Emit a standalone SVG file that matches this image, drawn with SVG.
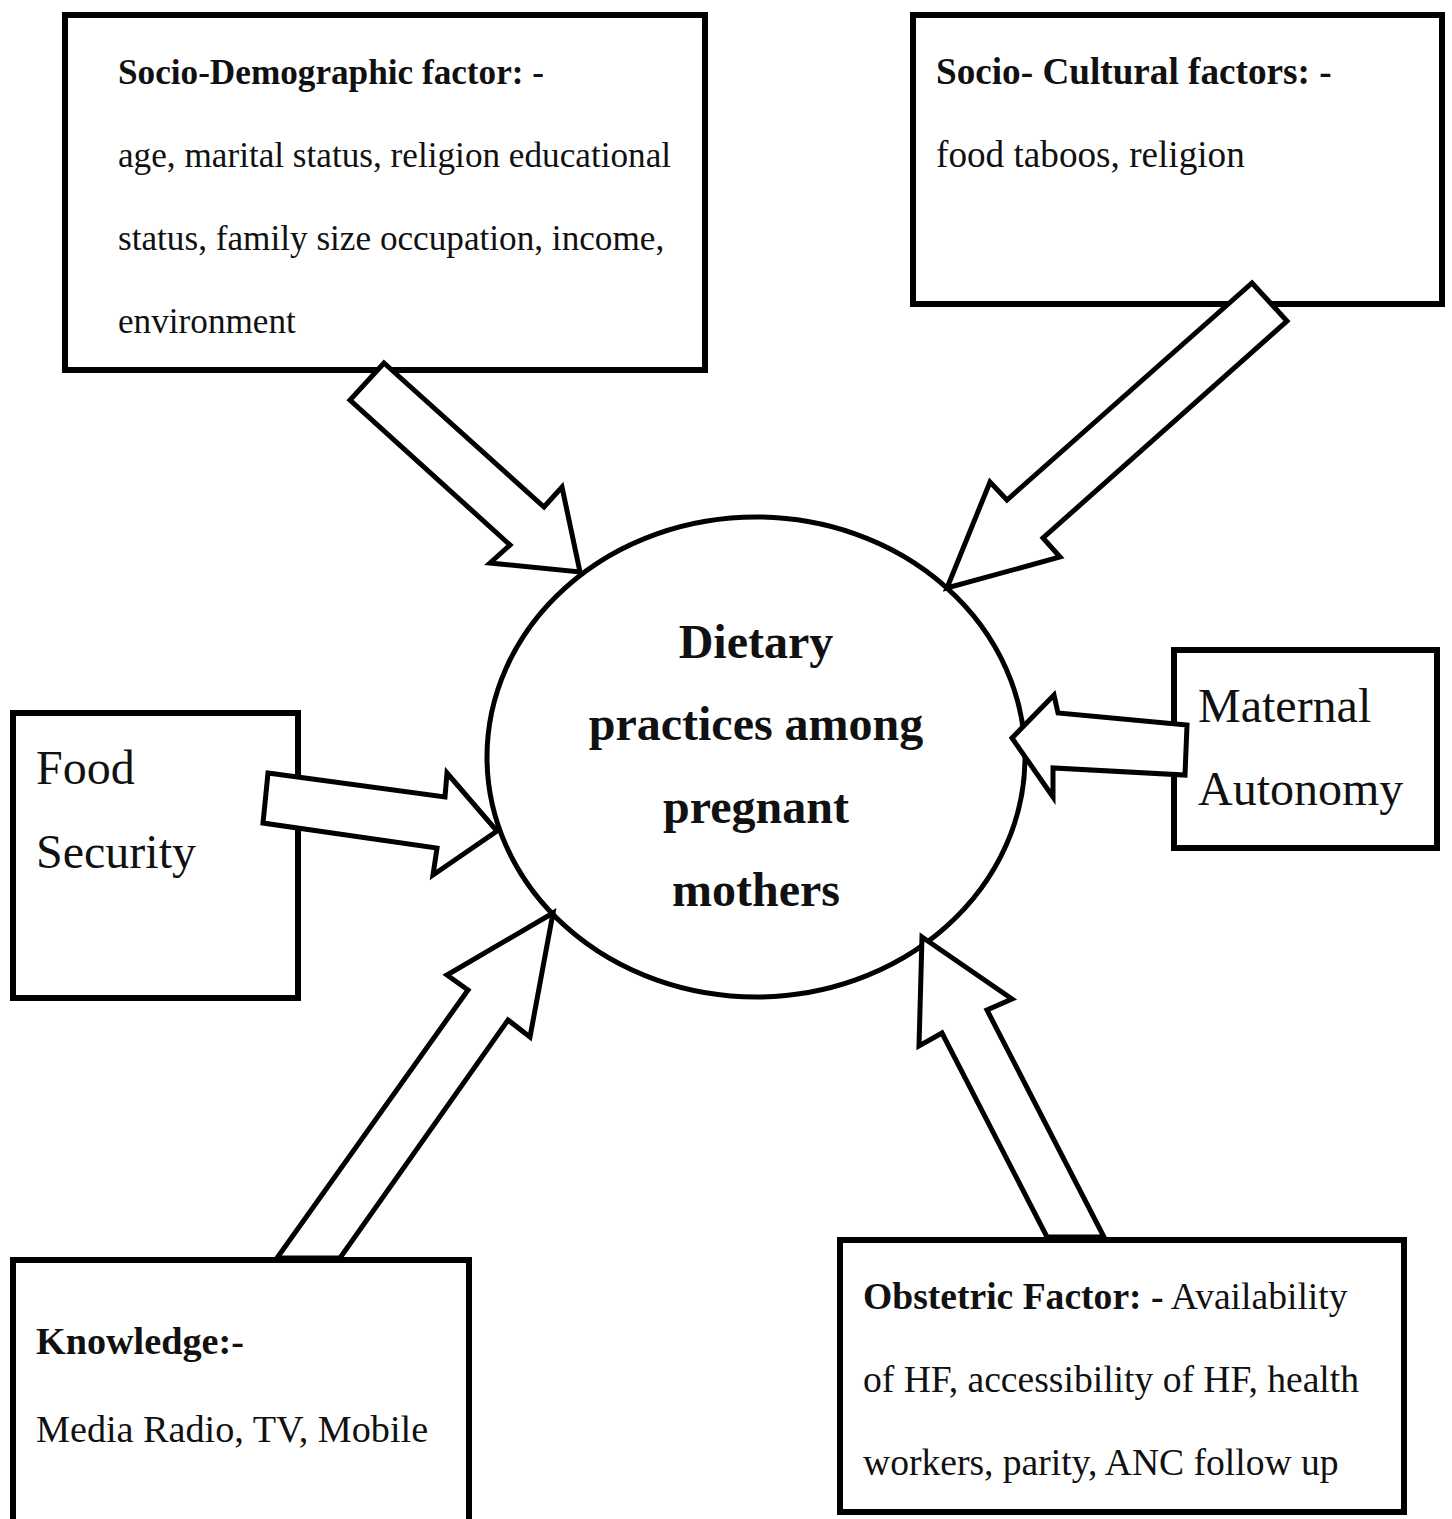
<svg xmlns="http://www.w3.org/2000/svg" width="1452" height="1519" viewBox="0 0 1452 1519">
<style>
.box{fill:#fff;stroke:#000;stroke-width:6}
.arr{fill:#fff;stroke:#000;stroke-width:5;stroke-linejoin:miter}
.ell{fill:#fff;stroke:#000;stroke-width:5}
text{font-family:"Liberation Serif","Times New Roman",serif;fill:#111}
.t1{font-size:35.2px}
.t2{font-size:37.2px}
.t3{font-size:38.2px}
.t4{font-size:37.6px}
.b{font-weight:bold}
.L{font-size:48px}
</style>
<rect width="1452" height="1519" fill="#fff"/>
<g id="center">
<ellipse class="ell" cx="756" cy="757" rx="269" ry="240"/>
<text class="L b" text-anchor="middle" x="756" y="658">Dietary</text>
<text class="L b" text-anchor="middle" x="756" y="740">practices among</text>
<text class="L b" text-anchor="middle" x="756" y="823">pregnant</text>
<text class="L b" text-anchor="middle" x="756" y="906">mothers</text>
</g>
<g id="socio-demographic">
<rect class="box" x="65" y="15" width="640" height="355"/>
<text class="t1 b" x="118" y="84">Socio-Demographic factor: -</text>
<text class="t1" x="118" y="167">age, marital status, religion educational</text>
<text class="t1" x="118" y="250">status, family size occupation, income,</text>
<text class="t1" x="118" y="333">environment</text>
</g>
<g id="socio-cultural">
<rect class="box" x="913" y="15" width="529" height="289"/>
<text class="t2 b" x="936" y="84">Socio- Cultural factors: -</text>
<text class="t2" x="936" y="167">food taboos, religion</text>
</g>
<g id="food-security">
<rect class="box" x="13" y="713" width="285" height="285"/>
<text class="L" x="36" y="784">Food</text>
<text class="L" x="36" y="868">Security</text>
</g>
<g id="maternal-autonomy">
<rect class="box" x="1174" y="650" width="263" height="198"/>
<text class="L" x="1198" y="722">Maternal</text>
<text class="L" x="1198" y="805">Autonomy</text>
</g>
<g id="knowledge">
<rect class="box" x="13" y="1260" width="456" height="270"/>
<text class="t3 b" x="36" y="1354">Knowledge:-</text>
<text class="t3" x="36" y="1442">Media Radio, TV, Mobile</text>
</g>
<g id="obstetric">
<rect class="box" x="840" y="1240" width="564" height="272"/>
<text class="t4" x="863" y="1309"><tspan class="b">Obstetric Factor: -</tspan> Availability</text>
<text class="t4" x="863" y="1392">of HF, accessibility of HF, health</text>
<text class="t4" x="863" y="1475">workers, parity, ANC follow up</text>
</g>
<g id="connectors">
<polygon class="arr" points="384,363 544,507 562,487 580,572 490,563 510,545 350,400"/>
<polygon class="arr" points="1252,283 1287,321 1043,538 1060,557 947,588 990,482 1007,500"/>
<polygon class="arr" points="268,773 445,797 447,773 497,831 433,875 437,848 263,823"/>
<polygon class="arr" points="1012,738 1054,695 1058,713 1187,725 1185,775 1053,768 1053,797"/>
<polygon class="arr" points="553,913 530,1037 508,1020 340,1258 277,1258 468,990 447,975"/>
<polygon class="arr" points="922,937 1012,999 987,1010 1104,1237 1047,1237 942,1033 919,1046"/>
</g>
</svg>
